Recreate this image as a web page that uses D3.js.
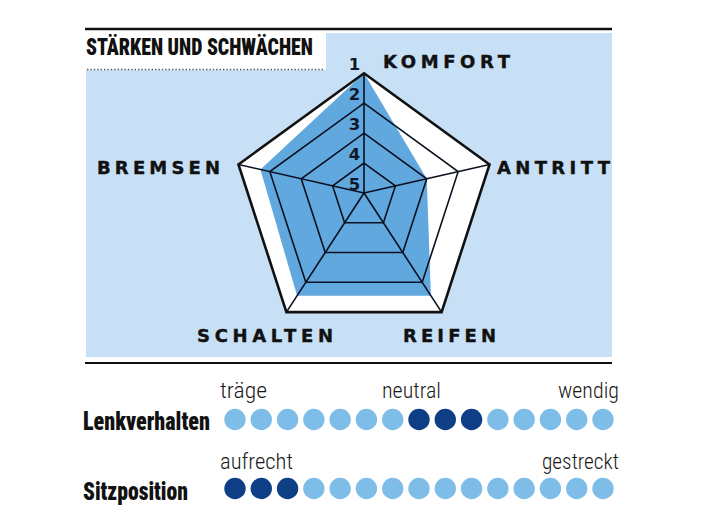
<!DOCTYPE html>
<html>
<head>
<meta charset="utf-8">
<script src="https://cdn.jsdelivr.net/npm/d3@7"></script>
<style>
  html, body { margin: 0; padding: 0; background: #ffffff; }
  svg { display: block; }
</style>
</head>
<body>
<div id="chart"></div>
<script>
// ---------- data ----------
const title = "STÄRKEN UND SCHWÄCHEN";
const axes = ["KOMFORT", "ANTRITT", "REIFEN", "SCHALTEN", "BREMSEN"];
const ratings = [1, 3, 1.55, 1.55, 1.7];          // 1 = best (outer), 5 = centre
const gridLevels = [1, 2, 3, 4, 5];
const rows = ["Lenkverhalten", "Sitzposition"];
const dotSteps = d3.range(1, 16);                  // 15 steps per row
const lenkSelected = [8, 9, 10];
const sitzSelected = [1, 2, 3];
const lenkLabels = ["träge", "neutral", "wendig"];
const sitzLabels = ["aufrecht", "gestreckt"];

// ---------- layout ----------
const W = 712, H = 526;
const C = { panel: "#c8e0f6", fill: "#60a8de", light: "#7fbde9", dark: "#0d3e86", ink: "#111" };

const svg = d3.select("#chart").append("svg").attr("width", W).attr("height", H);

// horizontally squeeze a text to a given width (condensed look)
function fitText(sel, x, y, width) {
  const natural = sel.node().getComputedTextLength();
  const k = width / natural;
  sel.attr("x", 0).attr("y", 0).attr("transform", `translate(${x},${y}) scale(${k},1)`);
  return sel;
}

// frame lines and panel
svg.append("rect").attr("x", 86).attr("y", 33).attr("width", 526).attr("height", 324).attr("fill", C.panel);
svg.append("rect").attr("x", 86).attr("y", 31).attr("width", 240).attr("height", 39).attr("fill", "#fff");
svg.append("line").attr("x1", 85).attr("x2", 612).attr("y1", 29).attr("y2", 29)
  .attr("stroke", C.ink).attr("stroke-width", 2.4);
svg.append("line").attr("x1", 85).attr("x2", 612).attr("y1", 363).attr("y2", 363)
  .attr("stroke", C.ink).attr("stroke-width", 2.2);
svg.append("line").attr("x1", 87).attr("x2", 325).attr("y1", 69.5).attr("y2", 69.5)
  .attr("stroke", "#555").attr("stroke-width", 1.6).attr("stroke-dasharray", "1.4 2");

const condBold = "'Roboto Condensed','Liberation Sans Narrow',Roboto,sans-serif";
fitText(svg.append("text")
  .attr("font-family", condBold)
  .attr("font-weight", 900).attr("font-size", 24.5)
  .attr("fill", C.ink).text(title), 86, 55, 227);

// ---------- radar ----------
const hub = [364, 193];          // where spokes converge
const shape = { cx: 364, cy: 205.3, R: 132 };   // outline pentagon
const angle = d3.scalePoint().domain(axes).range([0, 2 * Math.PI * 4 / 5]);
const vertex = a => [shape.cx + shape.R * Math.sin(angle(a)), shape.cy - shape.R * Math.cos(angle(a))];
const t = d3.scaleLinear().domain([5, 1]).range([0, 1]);
const pt = (a, v) => {
  const [vx, vy] = vertex(a);
  return [hub[0] + t(v) * (vx - hub[0]), hub[1] + t(v) * (vy - hub[1])];
};
const line = d3.line().curve(d3.curveLinearClosed);

// white interior
svg.append("path").attr("d", line(axes.map(a => pt(a, 1)))).attr("fill", "#fff");
// data polygon
svg.append("path").attr("d", line(axes.map((a, i) => pt(a, ratings[i])))).attr("fill", C.fill);
// grid rings
svg.selectAll("path.ring").data(gridLevels.filter(l => l > 1 && l < 5)).join("path")
  .attr("class", "ring").attr("d", l => line(axes.map(a => pt(a, l))))
  .attr("fill", "none").attr("stroke", "#0b1020").attr("stroke-width", 1.6).attr("stroke-linejoin", "miter");
// spokes
svg.selectAll("line.spoke").data(axes).join("line").attr("class", "spoke")
  .attr("x1", hub[0]).attr("y1", hub[1])
  .attr("x2", a => pt(a, 1)[0]).attr("y2", a => pt(a, 1)[1])
  .attr("stroke", "#0b1020").attr("stroke-width", 1.6);
// outer ring
svg.append("path").attr("d", line(axes.map(a => pt(a, 1))))
  .attr("fill", "none").attr("stroke", C.ink).attr("stroke-width", 2.6).attr("stroke-linejoin", "miter");

// level numbers along top spoke
svg.selectAll("text.lvl").data(gridLevels).join("text").attr("class", "lvl")
  .attr("x", 354.5).attr("y", l => pt(axes[0], l)[1] - 3)
  .attr("text-anchor", "middle")
  .attr("font-family", "'DejaVu Sans', sans-serif").attr("font-weight", 700).attr("font-size", 16.5)
  .attr("fill", "#101828").text(l => l);

// axis labels
const labelPos = {
  KOMFORT: { x: 383, y: 68, w: 127 },
  ANTRITT: { x: 497, y: 174, w: 113 },
  REIFEN: { x: 403, y: 342, w: 93 },
  SCHALTEN: { x: 197, y: 342, w: 136 },
  BREMSEN: { x: 97, y: 174, w: 123 }
};
svg.selectAll("text.ax").data(axes).join("text").attr("class", "ax")
  .attr("x", a => labelPos[a].x).attr("y", a => labelPos[a].y)
  .attr("textLength", a => labelPos[a].w).attr("lengthAdjust", "spacing")
  .attr("font-family", "'DejaVu Sans', sans-serif").attr("font-weight", 700).attr("font-size", 18)
  .attr("stroke", C.ink).attr("stroke-width", 0.4)
  .attr("fill", C.ink).text(a => a);

// ---------- dot scales ----------
const xDot = d3.scalePoint().domain(dotSteps).range([235, 603]);
const rowY = d3.scalePoint().domain(rows).range([419.5, 488.5]);
const selected = { Lenkverhalten: lenkSelected, Sitzposition: sitzSelected };

rows.forEach(r => {
  svg.append("g").selectAll("circle").data(dotSteps).join("circle")
    .attr("cx", d => xDot(d)).attr("cy", rowY(r)).attr("r", 10.7)
    .attr("fill", d => selected[r].includes(d) ? C.dark : C.light);
});

fitText(svg.append("text").attr("font-family", condBold).attr("font-weight", 900)
  .attr("font-size", 25.5).attr("fill", C.ink).text(rows[0]), 83, 430, 127);
fitText(svg.append("text").attr("font-family", condBold).attr("font-weight", 900)
  .attr("font-size", 25.5).attr("fill", C.ink).text(rows[1]), 83, 500, 105);

const lightFont = "'Roboto Condensed','Liberation Sans Narrow',Roboto,sans-serif";
const smallLabels = [
  { t: lenkLabels[0], x: 220, y: 398, w: 47 },
  { t: lenkLabels[1], x: 382, y: 398, w: 59 },
  { t: lenkLabels[2], x: 558, y: 398, w: 61 },
  { t: sitzLabels[0], x: 220, y: 469, w: 73 },
  { t: sitzLabels[1], x: 542, y: 469, w: 77 }
];
smallLabels.forEach(d => {
  fitText(svg.append("text").attr("font-family", lightFont).attr("font-weight", 300)
    .attr("font-size", 21.5).attr("fill", "#1a1a1a").text(d.t), d.x, d.y, d.w);
});
</script>
</body>
</html>
